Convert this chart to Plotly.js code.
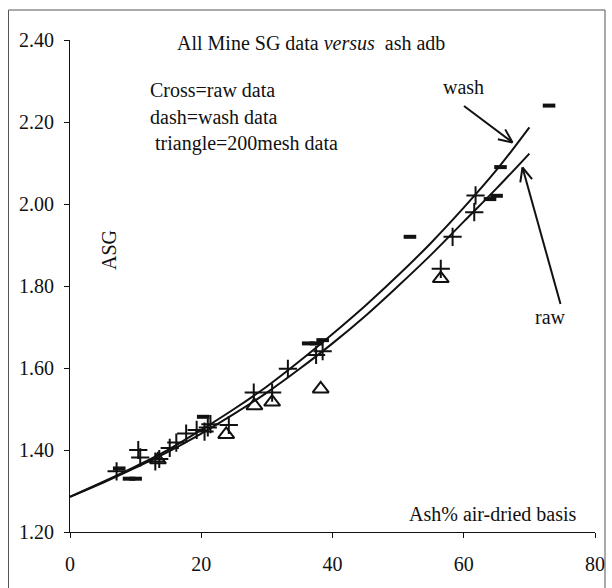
<!DOCTYPE html>
<html>
<head>
<meta charset="utf-8">
<script src="https://cdn.plot.ly/plotly-3.0.1.min.js"></script>
<style>html,body{margin:0;padding:0;background:#fff;}#chart{width:612px;height:588px;}</style>
</head>
<body>
<div id="chart"></div>
<script>
// Raw data (crosses)
var rawX = [7.1, 10.4, 10.7, 13.0, 13.6, 15.2, 16.2, 17.7, 19.3, 20.5, 21.0, 21.4, 24.2, 28.0, 30.8, 33.2, 37.5, 38.5, 56.5, 58.3, 61.6, 61.8];
var rawY = [1.348, 1.400, 1.382, 1.372, 1.378, 1.405, 1.418, 1.440, 1.449, 1.445, 1.455, 1.463, 1.461, 1.540, 1.540, 1.598, 1.632, 1.641, 1.842, 1.920, 1.980, 2.021];
// Wash data (dashes)
var washX = [7.5, 9.0, 10.0, 20.3, 36.3, 37.5, 38.5, 51.8, 64.0, 65.0, 65.6, 73.0];
var washY = [1.355, 1.330, 1.330, 1.481, 1.660, 1.660, 1.668, 1.920, 2.012, 2.020, 2.090, 2.240];
// 200 mesh data (triangles)
var meshX = [13.4, 23.8, 28.1, 30.8, 38.2, 56.5];
var meshY = [1.376, 1.438, 1.508, 1.517, 1.549, 1.818];
// Fitted curves
var curveX = [0, 5, 10, 15, 20, 25, 30, 35, 40, 45, 50, 55, 60, 65, 70];
var washCurveY = [1.286, 1.322, 1.360, 1.401, 1.449, 1.500, 1.555, 1.617, 1.683, 1.752, 1.826, 1.905, 1.991, 2.083, 2.187];
var rawCurveY = [1.286, 1.320, 1.357, 1.396, 1.440, 1.488, 1.540, 1.598, 1.660, 1.727, 1.800, 1.876, 1.957, 2.038, 2.123];
var xTicks = [0, 20, 40, 60, 80];
var yTicks = [1.20, 1.40, 1.60, 1.80, 2.00, 2.20, 2.40];

var FONT = 'Liberation Serif, Times New Roman, serif';
var FS = 20;
var INK = '#111';
var M = {l: 70, r: 17, t: 40, b: 56};
var PW = 612 - M.l - M.r, PH = 588 - M.t - M.b;
function px(x) { return (x - M.l) / PW; }
function py(y) { return (588 - M.b - y) / PH; }

function arrow(x0, y0, x1, y1) {
  var dx = x1 - x0, dy = y1 - y0, L = Math.sqrt(dx*dx + dy*dy);
  var ux = dx / L, uy = dy / L, a = 0.42, h = 15;
  var c = Math.cos(a), s = Math.sin(a);
  var b1x = x1 - h * (ux*c - uy*s), b1y = y1 - h * (ux*s + uy*c);
  var b2x = x1 - h * (ux*c + uy*s), b2y = y1 - h * (-ux*s + uy*c);
  var ln = {color: INK, width: 2};
  return [
    {type: 'line', xref: 'paper', yref: 'paper', x0: px(x0), y0: py(y0), x1: px(x1), y1: py(y1), line: ln},
    {type: 'line', xref: 'paper', yref: 'paper', x0: px(b1x), y0: py(b1y), x1: px(x1), y1: py(y1), line: ln},
    {type: 'line', xref: 'paper', yref: 'paper', x0: px(b2x), y0: py(b2y), x1: px(x1), y1: py(y1), line: ln}
  ];
}

var traces = [
  {x: curveX, y: washCurveY, mode: 'lines', line: {color: INK, width: 2, shape: 'spline'}, hoverinfo: 'skip'},
  {x: curveX, y: rawCurveY, mode: 'lines', line: {color: INK, width: 2, shape: 'spline'}, hoverinfo: 'skip'},
  {x: rawX, y: rawY, mode: 'markers', marker: {symbol: 'cross-thin-open', size: 13, color: INK, line: {color: INK, width: 2}}},
  {x: washX, y: washY, mode: 'markers', marker: {symbol: 'line-ew-open', size: 9, color: INK, line: {color: INK, width: 4}}},
  {x: meshX, y: meshY, mode: 'markers', marker: {symbol: 'triangle-up-open', size: 14, color: INK, line: {color: INK, width: 2}}}
];

var shapes = [
  {type: 'rect', xref: 'paper', yref: 'paper', x0: px(8.5), x1: px(605), y0: py(620), y1: py(10), line: {color: '#555', width: 1}, fillcolor: 'rgba(0,0,0,0)'}
].concat(arrow(464, 106, 512.5, 142.5)).concat(arrow(560.5, 304, 522.5, 167.5));

function ann(text, x, y, xa, extra) {
  var a = {text: text, xref: 'paper', yref: 'paper', x: px(x), y: py(y), xanchor: xa, yanchor: 'middle', showarrow: false, font: {family: FONT, size: FS, color: INK}};
  for (var k in extra) a[k] = extra[k];
  return a;
}

var layout = {
  width: 612, height: 588,
  margin: M,
  paper_bgcolor: '#fff', plot_bgcolor: '#fff',
  showlegend: false,
  font: {family: FONT, size: FS, color: INK},
  xaxis: {
    range: [0, 80], tickvals: xTicks, ticktext: xTicks.map(String),
    showgrid: false, zeroline: false, showline: true, linecolor: INK, linewidth: 1,
    ticks: 'outside', ticklen: 5, tickcolor: INK, ticklabelstandoff: 9,
    tickfont: {family: FONT, size: FS, color: INK}, fixedrange: true
  },
  yaxis: {
    range: [1.2, 2.4], tickvals: yTicks, ticktext: yTicks.map(function(v){return v.toFixed(2);}),
    showgrid: false, zeroline: false, showline: true, linecolor: INK, linewidth: 1,
    ticks: 'outside', ticklen: 5, tickcolor: INK, ticklabelstandoff: 6,
    tickfont: {family: FONT, size: FS, color: INK}, fixedrange: true
  },
  shapes: shapes,
  annotations: [
    ann('All Mine SG data <i>versus</i>&nbsp; ash adb', 310.5, 43, 'center'),
    ann('Cross=raw data', 147.5, 90, 'left'),
    ann('dash=wash data', 147.5, 117, 'left'),
    ann('triangle=200mesh data', 153, 143.5, 'left'),
    ann('wash', 463, 87, 'center'),
    ann('raw', 550, 317, 'center'),
    ann('Ash% air-dried basis', 579, 514, 'right'),
    ann('ASG', 109, 250, 'center', {textangle: -90})
  ]
};

Plotly.newPlot('chart', traces, layout, {displayModeBar: false, staticPlot: true});
</script>
</body>
</html>
